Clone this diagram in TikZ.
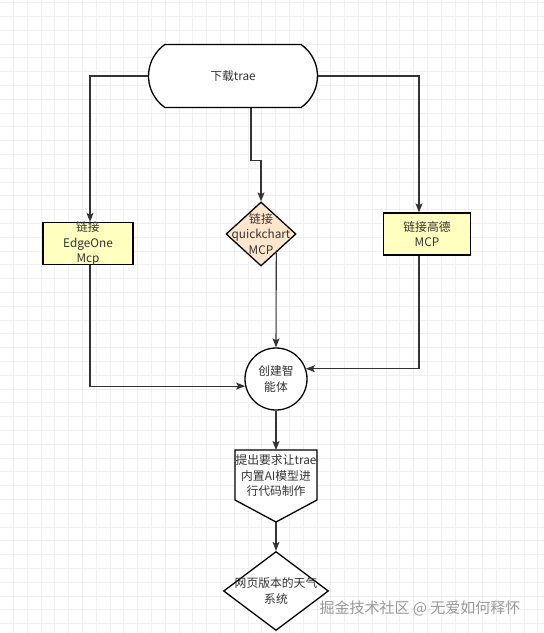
\documentclass[tikz,border=0pt]{standalone}
\usepackage{fontspec}
\setmainfont{Noto Sans CJK SC}
\usetikzlibrary{shapes.geometric,shapes.misc,arrows.meta,calc}
\definecolor{lnc}{HTML}{333333}
\definecolor{boxy}{HTML}{FFFFC0}
\definecolor{peach}{HTML}{FFE6CC}
\tikzset{
  shp/.style={draw=black,line width=1.3pt,inner sep=0pt},
  box/.style={shp,rectangle,fill=boxy},
  arr/.style={draw=lnc,line width=1.1pt,-{Stealth[length=9pt,width=7pt,inset=2pt]}}
}
\begin{document}
\begin{tikzpicture}[x=1pt,y=-1pt,font=\fontsize{11.8}{15.5}\selectfont,text=lnc]
\useasboundingbox (0,0) rectangle (544,633);
\fill[white] (0,0) rectangle (544,633);
\foreach \i in {0,...,38} \draw[black!6,line width=0.7pt] (13.4+13.8*\i,0) -- (13.4+13.8*\i,633);
\foreach \i in {0,...,45} \draw[black!6,line width=0.7pt] (0,2.5+13.8*\i) -- (544,2.5+13.8*\i);

\node[rounded rectangle,rounded rectangle arc length=110,shp,fill=white,minimum width=169pt,minimum height=63pt] (dl) at (233,76) {下载trae};

\node[box,minimum width=90pt,minimum height=42pt] (eo) at (88,243.5) {};
\node[align=center] (eo-t) at (eo) {链接\\EdgeOne\\Mcp};

\node[diamond,shp,fill=peach,minimum width=70pt,minimum height=64pt] (qc) at (261,234) {};
\node[align=center] (qc-t) at (qc) {链接\\quickchart\\MCP};

\node[box,minimum width=87pt,minimum height=42pt,align=center] (gd) at (427,234) {链接高德\\MCP};

\node[circle,shp,fill=white,minimum size=62pt,align=center] (c) at (276,379) {创建智\\能体};

\draw[shp,fill=white] (235,450) -- (317,450) -- (317,500) -- (276,522) -- (235,500) -- cycle;
\coordinate (tq-top) at (276,450);
\coordinate (tq-tip) at (276,522);
\node[align=center] (tq) at (276,476) {提出要求让trae\\内置AI模型进\\行代码制作};

\node[diamond,shp,fill=white,minimum width=105pt,minimum height=79pt] (wx) at (276,591) {};
\node[align=center] (wx-t) at (wx) {网页版本的天气\\系统};

\node[anchor=west,text=black!40,font=\fontsize{15}{18}\selectfont] (wm) at (316,608) {掘金技术社区 @ 无爱如何释怀};

\draw[arr] (dl.west) -| ([xshift=2pt]eo.north);
\draw[arr] ([xshift=18pt]dl.south) -- ++(0,52) -| (qc.north);
\draw[arr] (dl.east) -| ([xshift=-8pt]gd.north);
\draw[arr] ($(qc.south)!0.43!(qc.east)$) -- (c.north);
\draw[arr] ([xshift=2pt]eo.south) |- (c.193);
\draw[arr] ([xshift=-8pt]gd.south) |- (c.19);
\draw[arr] (c.south) -- (tq-top);
\draw[arr] (tq-tip) -- (wx.north);
\end{tikzpicture}
\end{document}
